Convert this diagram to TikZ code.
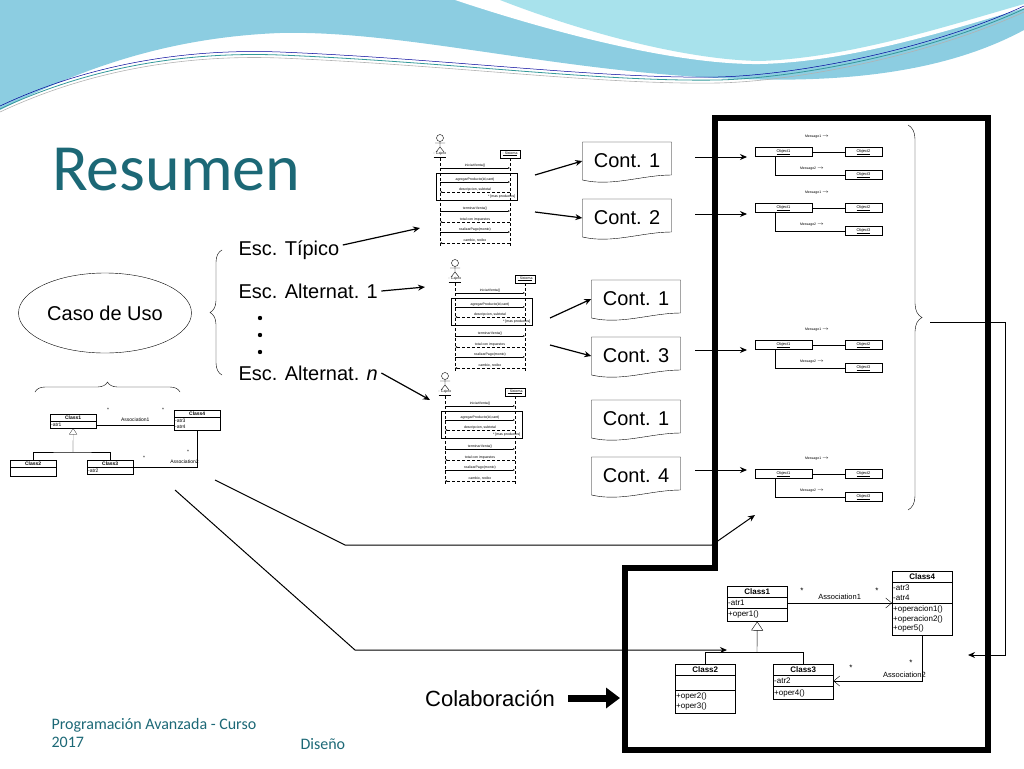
\documentclass[tikz,border=0pt]{standalone}
\usepackage{fontspec}
\setmainfont{Liberation Sans}
\newfontfamily\titlefont{Carlito}
\usetikzlibrary{shapes.multipart,shapes.geometric,decorations.pathreplacing,arrows.meta}
\definecolor{tealtitle}{RGB}{28,104,118}
\definecolor{wave1}{RGB}{120,196,220}
\definecolor{wave2}{RGB}{168,226,236}
\tikzset{
  tiny/.style={font=\fontsize{3.5}{4}\selectfont, inner sep=0.5pt},
  big/.style={font=\fontsize{20}{22}\selectfont},
  doc/.style={minimum width=89, minimum height=38, inner sep=0pt, font=\fontsize{20}{22}\selectfont},
  cls/.style={draw, rectangle split, rectangle split parts=#1,
    inner xsep=1pt, inner ysep=2.5pt, font=\fontsize{8}{9.5}\selectfont, text width=58, align=left, fill=white},
  scls/.style={draw, rectangle split, rectangle split parts=#1,
    inner xsep=1pt, inner ysep=1.5pt, font=\fontsize{5}{6}\selectfont, text width=44, align=left, fill=white},
  obj/.style={draw, minimum width=#1, minimum height=9, inner sep=0pt, font=\fontsize{4}{5}\selectfont},
  arr/.style={-{Stealth[length=7pt,width=6pt]}, line width=1.2pt},
}
\newcommand{\hd}[2][58pt]{\makebox[#1][c]{\textbf{#2}}}
% diagrama de secuencia {{{
\newcommand{\seqdiag}[2]{
\begin{scope}[shift={#2}]
  \draw (15,8) circle (3.5);
  \draw (15,11.5) -- (15,17) (10,13) -- (20,13) (15,17) -- (11,22) (15,17) -- (19,22);
  \node[tiny] (#1act) at (15,25) {\underline{: Cajero}};
  \node[tiny, draw, minimum width=20, minimum height=8] (#1sis) at (85,24) {\underline{: Sistema}};
  \draw[densely dashed, very thin] (#1act) -- (15,116);
  \draw[densely dashed, very thin] (#1sis) -- (85,116);
  \draw[very thin] (11,43) rectangle (92,70);
  \foreach \y/\t in {38/{iniciarVenta()}, 52/{agregarProducto(id,cant)}, 81/{terminarVenta()}, 102/{realizarPago(monto)}} {
    \draw[very thin, -{Latex[length=2pt]}] (15,\y) -- node[tiny, above] {\t} (85,\y);
  }
  \foreach \y/\t in {62/{descripcion, subtotal}, 92/{total con impuestos}, 113/{cambio, recibo}} {
    \draw[very thin, densely dashed, -{Latex[length=2pt]}] (85,\y) -- node[tiny, above] {\t} (15,\y);
  }
  \node[tiny, anchor=east] at (91,67) {* [mas productos]};
\end{scope}
}
% }}}
% diagrama de colaboracion {{{
\newcommand{\colabdiag}[2]{
\begin{scope}[shift={#2}]
  \node[obj=57] (#1o1) at (28.5,22) {\underline{Object1}};
  \node[obj=37] (#1o2) at (108.5,22) {\underline{Object2}};
  \node[obj=37] (#1o3) at (108.5,45) {\underline{Object3}};
  \draw[very thin] (#1o1) -- (#1o2);
  \draw[very thin] (20,26.5) |- (#1o3);
  \node[tiny] (#1m1) at (62,7) {Message1 $\rightarrow$};
  \node[tiny] (#1m2) at (57,39) {Message2 $\rightarrow$};
\end{scope}
}
% }}}
\begin{document}
\begin{tikzpicture}[x=1pt, y=-1pt]
\useasboundingbox (0,0) rectangle (1024,768);
% fondo {{{
\fill[wave1!85] (0,0) -- (1024,0) -- (1024,30) .. controls (950,70) and (850,85) .. (718,78)
   .. controls (550,70) and (400,30) .. (280,33) .. controls (150,38) and (60,80) .. (0,110) -- cycle;
\fill[white] (455,0) .. controls (560,35) and (680,65) .. (760,64) .. controls (850,62) and (950,30) .. (1024,8)
   -- (1024,0) -- cycle;
\fill[wave2] (500,0) .. controls (590,35) and (690,60) .. (760,61) .. controls (850,58) and (950,25) .. (1024,4)
   -- (1024,0) -- cycle;
\draw[teal!80, line width=0.8pt] (0,109) .. controls (100,62) and (200,52) .. (280,55)
   .. controls (450,62) and (600,82) .. (718,80) .. controls (800,78) and (930,52) .. (1024,9);
\draw[blue!60!black, line width=0.5pt] (0,106) .. controls (100,59) and (200,49) .. (280,52)
   .. controls (450,59) and (600,79) .. (718,77) .. controls (800,75) and (930,49) .. (1024,6);
\draw[gray!60, line width=0.6pt] (0,112) .. controls (100,65) and (200,55) .. (280,58)
   .. controls (450,65) and (600,85) .. (718,83) .. controls (800,81) and (930,55) .. (1024,12);
% }}}
\node[anchor=base west, text=tealtitle, font=\titlefont\fontsize{66}{70}\selectfont, inner sep=0pt] (titulo) at (52,190) {Resumen};
% caso de uso y escenarios {{{
\node[draw, ellipse, minimum width=140, minimum height=80, big] (caso) at (105,313) {Caso de Uso};
\coordinate (bA) at (222,250);
\coordinate (bB) at (222,375);
\draw[decorate, decoration={brace, amplitude=12pt, mirror}] (bA) -- (bB);
\node[big, anchor=west] (tip) at (235,250) {Esc. Típico};
\node[big, anchor=west] (alt1) at (235,291) {Esc. Alternat. 1};
\node[big, anchor=west] (altn) at (235,373) {Esc. Alternat. \textit{n}};
\foreach \y [count=\i] in {318,335,352} { \fill (260,\y) circle (2.2) coordinate (pt\i); }
\seqdiag{sa}{(425,130)}
\seqdiag{sb}{(440,255)}
\seqdiag{sc}{(430,368)}
\coordinate (sa0) at (420,228);
\coordinate (sb0) at (425,287);
\coordinate (sc0) at (430,400);
\draw[arr] (tip.east) ++(0,-5) -- (sa0);
\draw[arr] (alt1.east) -- (sb0);
\draw[arr] (altn.east) -- (sc0);
% }}}
% contratos {{{
\foreach \n/\x/\y/\t in {c1/627/161/Cont. 1, c2/627/218/Cont. 2, c3/636/299/Cont. 1, c4/636/356/Cont. 3, c5/636/419/Cont. 1, c6/636/476/Cont. 4} {
  \node[doc] (\n) at (\x,\y) {\t};
  \draw (\x-44.5,\y-19) -- (\x+44.5,\y-19) -- (\x+44.5,\y+14)
     .. controls (\x+15,\y+14) and (\x-15,\y+26) .. (\x-44.5,\y+19) -- cycle;
}
\coordinate (sa1) at (535,175); \coordinate (sa2) at (535,212);
\coordinate (sb1) at (550,318); \coordinate (sb2) at (550,345);
\draw[arr] (sa1) -- (c1.west);
\draw[arr] (sa2) -- (c2.west);
\draw[arr] (sb1) -- (c3.west);
\draw[arr] (sb2) -- (c4.west);
% }}}
% colaboracion {{{
\draw[line width=6pt, line join=miter] (715,118) -- (988,118) -- (988,750) -- (625,750) -- (625,568) -- (715,568) -- cycle;
\colabdiag{ka}{(755,130)}
\colabdiag{kb}{(755,186)}
\colabdiag{kc}{(755,323)}
\colabdiag{kd}{(755,452)}
\foreach \n/\y in {ka/157, kb/214, kc/350, kd/470} {
  \coordinate (\n0) at (695,\y);
  \coordinate (\n1) at (747,\y);
  \draw[arr, line width=1pt] (\n0) -- (\n1);
}
\coordinate (rA) at (908,125);
\coordinate (rB) at (908,510);
\draw[decorate, decoration={brace, amplitude=14pt}] (rA) -- (rB);
% }}}
% diagrama de clases {{{
\node[cls=3, anchor=north west] (k1) at (727,586) {\hd{Class1}\nodepart{two}-atr1\nodepart{three}+oper1()};
\node[cls=3, anchor=north west] (k4) at (892,571) {\hd{Class4}\nodepart{two}-atr3\\-atr4\nodepart{three}+operacion1()\\+operacion2()\\+oper5()};
\node[cls=3, anchor=north west] (k2) at (675,664) {\hd{Class2}\nodepart{two}\strut\nodepart{three}+oper2()\\+oper3()};
\node[cls=3, anchor=north west] (k3) at (773,664) {\hd{Class3}\nodepart{two}-atr2\nodepart{three}+oper4()};
\draw[-{Straight Barb[length=6pt,width=10pt]}] (k1.two east) -- node[above, font=\fontsize{7.5}{9}\selectfont] {Association1} (k1.two east -| k4.west);
\node[font=\fontsize{8}{9}\selectfont] at (802,591) {*};
\node[font=\fontsize{8}{9}\selectfont] at (877,591) {*};
\draw[-{Straight Barb[length=6pt,width=10pt]}] (k4.south) |- node[pos=0.6, above, font=\fontsize{7.5}{9}\selectfont] {Association2} (k3.two east);
\node[font=\fontsize{8}{9}\selectfont] at (911,663) {*};
\node[font=\fontsize{8}{9}\selectfont] at (851,668) {*};
\coordinate (gen) at (757,652);
\draw (k2.north) |- (gen) -| (k3.north);
\draw[-{Triangle[open,length=9pt,width=12pt]}] (gen) -- (k1.south);
% }}}
% clases pequeno {{{
\node[scls=2, anchor=north west] (s1) at (50,414) {\hd[44pt]{Class1}\nodepart{two}-atr1};
\node[scls=2, anchor=north west] (s4) at (174,410) {\hd[44pt]{Class4}\nodepart{two}-atr3\\-atr4};
\node[scls=2, anchor=north west] (s2) at (10,460) {\hd[44pt]{Class2}\nodepart{two}\strut};
\node[scls=2, anchor=north west] (s3) at (87,460) {\hd[44pt]{Class3}\nodepart{two}-atr2};
\draw[very thin] (s1.two east) -- node[above, font=\fontsize{5}{6}\selectfont] {Association1} (s1.two east -| s4.west);
\draw[very thin] (s4.south) |- node[pos=0.6, above, font=\fontsize{5}{6}\selectfont] {Association2} (s3.east);
\node[font=\fontsize{5}{6}\selectfont] at (108,410) {*};
\node[font=\fontsize{5}{6}\selectfont] at (163,410) {*};
\node[font=\fontsize{5}{6}\selectfont] at (188,452) {*};
\node[font=\fontsize{5}{6}\selectfont] at (144,458) {*};
\coordinate (sgen) at (73,452);
\draw[very thin] (s2.north) |- (sgen) -| (s3.north);
\draw[very thin, -{Triangle[open,length=6pt,width=8pt]}] (sgen) -- (s1.south);
\coordinate (lA) at (35,392);
\coordinate (lB) at (180,392);
\draw[decorate, decoration={brace, amplitude=10pt}] (lA) -- (lB);
% }}}
% flechas largas {{{
\coordinate (f1) at (215,480); \coordinate (f2) at (345,545); \coordinate (f3) at (712,545); \coordinate (f4) at (755,515);
\draw[arr, line width=1pt] (f1) -- (f2) -- (f3) -- (f4);
\coordinate (g1) at (175,490); \coordinate (g2) at (355,650);
\draw[arr, line width=1pt] (g1) -- (g2) -- (k1.west |- g2);
\coordinate (h1) at (930,322); \coordinate (h2) at (1005,322); \coordinate (h3) at (1005,655); \coordinate (h4) at (968,655);
\draw[arr, line width=1pt] (h1) -- (h2) -- (h3) -- (h4);
% }}}
\node[font=\fontsize{22}{24}\selectfont] (colab) at (490,698) {Colaboración};
\coordinate (colabR) at (620,698);
\draw[-{Triangle[length=14pt,width=20pt]}, line width=7pt] (colab.east) ++(10,0) -- (colabR);
\node[anchor=west, text=tealtitle, font=\titlefont\fontsize{16}{18}\selectfont, align=left] (pie) at (48,733) {Programación Avanzada - Curso\\2017};
\node[anchor=west, text=tealtitle, font=\titlefont\fontsize{16}{18}\selectfont] (dis) at (297,744) {Diseño};
\end{tikzpicture}
\end{document}
